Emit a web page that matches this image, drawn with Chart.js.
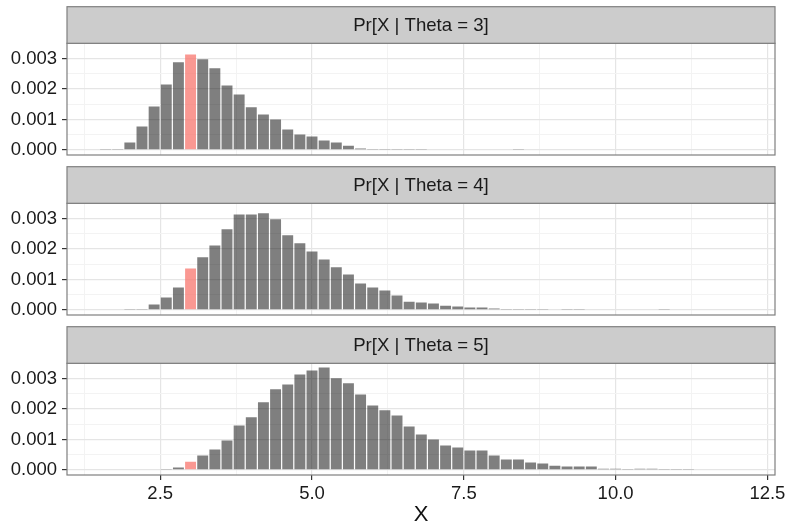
<!DOCTYPE html>
<html>
<head>
<meta charset="utf-8">
<script src="https://cdn.jsdelivr.net/npm/chart.js@4.4.0/dist/chart.umd.min.js"></script>
<style>
  body { margin: 0; background: #fff; }
  #wrap { position: relative; width: 788px; height: 527px; }
  canvas { position: absolute; left: 0; }
</style>
</head>
<body>
<div id="wrap">
  <canvas id="p0" width="788" height="160" style="top:0px"></canvas>
  <canvas id="p1" width="788" height="160" style="top:160px"></canvas>
  <canvas id="p2" width="788" height="207" style="top:320px"></canvas>
</div>
<script>
// bin centres (width 0.2)
const bins = [1.6, 1.8, 2.0, 2.2, 2.4, 2.6, 2.8, 3.0, 3.2, 3.4,
              3.6, 3.8, 4.0, 4.2, 4.4, 4.6, 4.8, 5.0, 5.2, 5.4,
              5.6, 5.8, 6.0, 6.2, 6.4, 6.6, 6.8, 7.0, 7.2, 7.4,
              7.6, 7.8, 8.0, 8.2, 8.4, 8.6, 8.8, 9.0, 9.2, 9.4,
              9.6, 9.8, 10.0, 10.2, 10.4, 10.6, 10.8, 11.0, 11.2, 11.4,
              11.6, 11.8, 12.0];

const theta3 = [0.00003, 0.00003, 0.00024, 0.00077, 0.00143, 0.00215, 0.00288, 0.00314, 0.00298, 0.00268,
                0.00212, 0.00182, 0.00140, 0.00116, 0.00100, 0.00067, 0.00051, 0.00044, 0.00031, 0.00024,
                0.00014, 0.00005, 0.00003, 0.00003, 0.00003, 0.00003, 0.00003, 0, 0, 0,
                0, 0, 0, 0, 0.00003, 0, 0, 0, 0, 0,
                0, 0, 0, 0, 0, 0, 0, 0, 0, 0,
                0, 0, 0];

const theta4 = [0, 0, 0.00003, 0.00003, 0.00018, 0.00041, 0.00074, 0.00136, 0.00173, 0.00212,
                0.00265, 0.00314, 0.00314, 0.00318, 0.00298, 0.00245, 0.00219, 0.00192, 0.00166, 0.00140,
                0.00116, 0.00087, 0.00074, 0.00064, 0.00047, 0.00027, 0.00024, 0.00021, 0.00014, 0.00011,
                0.00008, 0.00008, 0.00005, 0.00003, 0.00003, 0.00003, 0.00003, 0, 0.00003, 0.00003,
                0, 0, 0, 0, 0, 0, 0.00003, 0, 0, 0,
                0, 0, 0];

const theta5 = [0, 0, 0, 0, 0, 0.00003, 0.00008, 0.00027, 0.00047, 0.00067,
                0.00097, 0.00146, 0.00173, 0.00222, 0.00265, 0.00281, 0.00314, 0.00327, 0.00337, 0.00301,
                0.00285, 0.00248, 0.00212, 0.00196, 0.00179, 0.00143, 0.00116, 0.00100, 0.00080, 0.00074,
                0.00064, 0.00064, 0.00047, 0.00034, 0.00034, 0.00024, 0.00021, 0.00014, 0.00011, 0.00011,
                0.00011, 0.00004, 0.00004, 0.00003, 0.00004, 0.00004, 0.00003, 0.00003, 0.00003, 0.00002,
                0.00002, 0.00002, 0.00002];

const panelTitles = ['Pr[X | Theta = 3]', 'Pr[X | Theta = 4]', 'Pr[X | Theta = 5]'];
const highlightX = 3.0;

const xMajor = [2.5, 5, 7.5, 10, 12.5];
const xMinor = [1.25, 3.75, 6.25, 8.75, 11.25];
const yMajor = [0, 0.001, 0.002, 0.003];
const yMinor = [0.0005, 0.0015, 0.0025, 0.0035];

const FONT = "'Liberation Sans', Arial, sans-serif";
const STRIP_H = 36.6;

function isMajor(list, v) {
  return list.some(m => Math.abs(m - v) < 1e-9);
}

const stripPlugin = {
  id: 'strip',
  afterDraw(chart, args, opts) {
    const { ctx, chartArea: a } = chart;
    ctx.save();
    ctx.strokeStyle = '#7f7f7f';
    ctx.lineWidth = 1.2;
    ctx.strokeRect(a.left, a.top, a.right - a.left, a.bottom - a.top);
    ctx.fillStyle = '#cccccc';
    ctx.fillRect(a.left, a.top - STRIP_H, a.right - a.left, STRIP_H);
    ctx.strokeRect(a.left, a.top - STRIP_H, a.right - a.left, STRIP_H);
    ctx.fillStyle = '#1a1a1a';
    ctx.font = '18.6px ' + FONT;
    ctx.textAlign = 'center';
    ctx.textBaseline = 'middle';
    ctx.fillText(opts.text, (a.left + a.right) / 2, a.top - STRIP_H / 2 + 0.5);
    ctx.restore();
  }
};

function makePanel(id, values, title, isLast) {
  new Chart(document.getElementById(id), {
    type: 'bar',
    data: {
      datasets: [{
        data: bins.map((x, i) => ({ x: x, y: values[i] })),
        backgroundColor: c => (c.raw && c.raw.x === highlightX) ? 'rgba(248,118,109,0.75)' : 'rgba(0,0,0,0.5)',
        borderWidth: 0,
        barPercentage: 0.9,
        categoryPercentage: 1.0
      }]
    },
    plugins: [stripPlugin],
    options: {
      responsive: false,
      animation: false,
      layout: { padding: { top: 43.3, right: 13, bottom: isLast ? 0 : 5, left: 0 } },
      plugins: {
        legend: { display: false },
        tooltip: { enabled: false },
        strip: { text: title }
      },
      scales: {
        x: {
          type: 'linear',
          min: 0.965,
          max: 12.625,
          offset: false,
          afterBuildTicks: s => {
            s.ticks = xMinor.concat(xMajor).sort((a, b) => a - b).map(v => ({ value: v }));
          },
          afterFit: s => {
            s.height = isLast ? 52 : 0;
            s.paddingLeft = 0;
            s.paddingRight = 0;
          },
          border: { display: false },
          grid: {
            offset: false,
            color: c => (c.tick && isMajor(xMajor, c.tick.value)) ? '#e5e5e5' : '#f3f3f3',
            lineWidth: c => (c.tick && isMajor(xMajor, c.tick.value)) ? 1.2 : 1,
            drawTicks: isLast,
            tickLength: 5,
            tickWidth: 1.2,
            tickColor: c => (c.tick && isMajor(xMajor, c.tick.value)) ? '#333333' : 'rgba(0,0,0,0)'
          },
          ticks: {
            display: isLast,
            autoSkip: false,
            maxRotation: 0,
            padding: 3,
            color: '#1a1a1a',
            font: { family: FONT, size: 18.5 },
            callback: v => isMajor(xMajor, v) ? v.toFixed(1) : ''
          },
          title: {
            display: isLast,
            text: 'X',
            color: '#111111',
            font: { family: FONT, size: 22, lineHeight: 1 },
            padding: { top: 0, bottom: 1 }
          }
        },
        y: {
          min: -0.000167,
          max: 0.003504,
          afterBuildTicks: s => {
            s.ticks = yMinor.concat(yMajor).sort((a, b) => a - b).map(v => ({ value: v }));
          },
          afterFit: s => {
            s.width = 67;
            s.paddingTop = 0;
            s.paddingBottom = 0;
          },
          border: { display: false },
          grid: {
            color: c => (c.tick && isMajor(yMajor, c.tick.value)) ? '#e5e5e5' : '#f3f3f3',
            lineWidth: c => (c.tick && isMajor(yMajor, c.tick.value)) ? 1.2 : 1,
            tickLength: 5,
            tickWidth: 1.2,
            tickColor: c => (c.tick && isMajor(yMajor, c.tick.value)) ? '#333333' : 'rgba(0,0,0,0)'
          },
          ticks: {
            autoSkip: false,
            padding: 5,
            color: '#1a1a1a',
            font: { family: FONT, size: 18.5 },
            callback: v => isMajor(yMajor, v) ? v.toFixed(3) : ''
          }
        }
      }
    }
  });
}

makePanel('p0', theta3, panelTitles[0], false);
makePanel('p1', theta4, panelTitles[1], false);
makePanel('p2', theta5, panelTitles[2], true);
</script>
</body>
</html>
